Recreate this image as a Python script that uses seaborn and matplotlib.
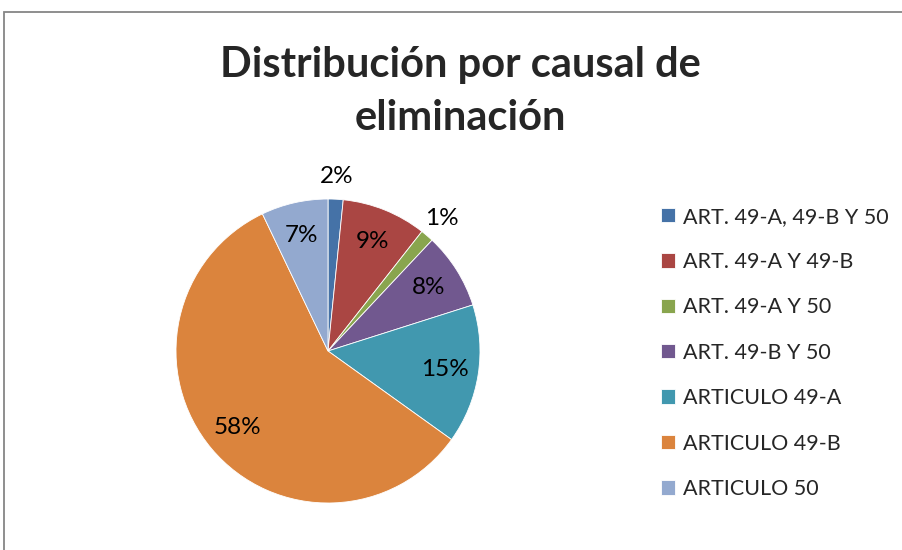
import numpy as np
import matplotlib
matplotlib.use("Agg")
import matplotlib.pyplot as plt
import seaborn as sns

# data (percent of total)
categorias = ["ART. 49-A, 49-B Y 50", "ART. 49-A Y 49-B", "ART. 49-A Y 50",
              "ART. 49-B Y 50", "ARTICULO 49-A", "ARTICULO 49-B", "ARTICULO 50"]
valores = [1.6, 9.0, 1.4, 8.1, 14.8, 58.0, 7.1]
colores = ["#4572A7", "#AA4643", "#89A54E", "#71588F", "#4198AF", "#DB843D", "#93A9CF"]

sns.set_theme(style="white")
plt.rcParams['font.family'] = ['Lato', 'DejaVu Sans']

fig = plt.figure(figsize=(9.02, 5.5), dpi=100)

# outer chart frame
fig.patches.append(plt.Rectangle((4 / 902, -0.05), 1.2, 1 - 12 / 550 + 0.05,
                                 transform=fig.transFigure, fill=False,
                                 edgecolor="#868686", linewidth=1.3))

# pie axes: center (328, 351) px, radius 152 px
cx, cy, r = 328, 351, 152
ax = fig.add_axes([(cx - r) / 902, (550 - cy - r) / 550, 2 * r / 902, 2 * r / 550])

wedges, texts, autotexts = ax.pie(
    valores, colors=colores, startangle=90, counterclock=False,
    autopct=lambda p: f"{p:.0f}%", pctdistance=0.78,
    wedgeprops=dict(edgecolor="white", linewidth=0.6),
    textprops=dict(fontsize=17.5, color="black"))
ax.set_xlim(-1, 1)
ax.set_ylim(-1, 1)

# small slices get their labels outside
for t, v in zip(autotexts, valores):
    if v < 3:
        x, y = t.get_position()
        t.set_position((x * 1.15 / 0.78, y * 1.15 / 0.78))

fig.text(0.51, 1 - 65 / 550, "Distribución por causal de", ha="center", va="center",
         fontsize=30, fontweight="bold")
fig.text(0.51, 1 - 118 / 550, "eliminación", ha="center", va="center",
         fontsize=30, fontweight="bold")

fig.legend(wedges, categorias, loc="upper left", bbox_to_anchor=(652 / 902, 1 - 198 / 550),
           frameon=False, fontsize=15.5, handlelength=0.65, handleheight=0.65,
           handletextpad=0.4, labelspacing=1.18, borderaxespad=0)

fig.savefig("out.png", dpi=100)
